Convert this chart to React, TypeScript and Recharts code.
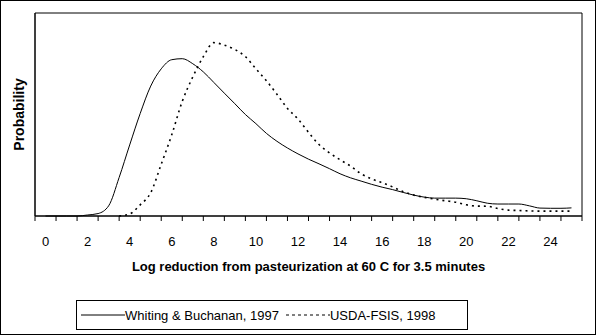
import React from 'react';
import { LineChart, Line, XAxis, YAxis, ReferenceArea } from 'recharts';

// log reduction (category centres) and relative probability
const xWhiting = [0, 1, 1.5, 2, 2.5, 3, 3.5, 4, 4.5, 5, 5.5, 6, 6.5, 7, 7.5, 8, 8.5, 9, 9.5, 10, 10.5, 11, 11.5, 12, 12.5, 13, 13.5, 14, 14.5, 15, 15.5, 16, 16.5, 17, 17.5, 18, 18.5, 19, 19.5, 20, 20.5, 21, 21.5, 22, 22.5, 23, 23.5, 24, 24.5, 25];
const yWhiting = [0, 0, 0, 0.5, 1.2, 5, 19, 35, 50.5, 64, 72.5, 77, 77.5, 75, 71, 65.8, 60.5, 55.3, 50, 45.5, 40.7, 36.8, 33.5, 30.6, 28, 25.7, 23.3, 20.8, 18.8, 17.2, 15.6, 14.2, 13, 11.6, 10.3, 9.3, 8.8, 8.8, 8.8, 8.5, 7.5, 6.3, 5.9, 5.9, 5.9, 5, 3.9, 3.8, 3.8, 4];

const xUsda = [3.5, 4, 4.5, 5, 5.5, 6, 6.5, 7, 7.5, 8, 8.5, 9, 9.5, 10, 10.5, 11, 11.5, 12, 12.5, 13, 13.5, 14, 14.5, 15, 15.5, 16, 16.5, 17, 17.5, 18, 18.5, 19, 19.5, 20, 20.5, 21, 21.5, 22, 22.5, 23, 23.5, 24, 24.5, 25];
const yUsda = [0, 1, 5.5, 11.5, 25.5, 40, 56.5, 68.5, 78.5, 85.4, 84.2, 82, 78.5, 72.5, 66.6, 60, 53, 47.8, 41.2, 35.2, 31.1, 27.7, 24.6, 20.8, 18.3, 16.4, 14.3, 12, 10.3, 9.2, 8.3, 7.5, 6.8, 5.5, 4.9, 4.8, 3.7, 2.9, 2.7, 2.5, 2.4, 2.4, 2.4, 2.4];

// category boundaries (tick marks) and the labels that sit between them
const boundaries = Array.from({ length: 27 }, (_, i) => i - 0.5);
const labelled = [0, 2, 4, 6, 8, 10, 12, 14, 16, 18, 20, 22, 24];

const whiting = xWhiting.map((x, i) => ({ x, y: yWhiting[i] }));
const usda = xUsda.map((x, i) => ({ x, y: yUsda[i] }));

const W = 596;
const H = 335;
const LEFT = 34;
const RIGHT = 13;
const FONT = '"Liberation Sans", Arial, sans-serif';
const halfStep = (W - LEFT - RIGHT) / 26 / 2;

function BoundaryTick(props: any) {
  const { x, y, payload } = props;
  const k = payload.value + 0.5;
  if (!labelled.includes(k)) return null;
  return (
    <text x={x + halfStep} y={y + 23} textAnchor="middle" fontSize={13} fill="#000" fontFamily={FONT}>
      {k}
    </text>
  );
}

function ProbabilityLabel(props: any) {
  const { viewBox } = props;
  const cy = viewBox.y + viewBox.height / 2;
  return (
    <text
      x={19}
      y={cy}
      transform={`rotate(-90, 19, ${cy})`}
      textAnchor="middle"
      dominantBaseline="central"
      fontSize={14}
      fontWeight="bold"
      fill="#000"
      fontFamily={FONT}
    >
      Probability
    </text>
  );
}

export default function App() {
  return (
    <div
      style={{
        position: 'absolute',
        left: 0,
        top: 0,
        width: W,
        height: H,
        border: '1px solid #000',
        boxSizing: 'border-box',
        background: '#fff',
        fontFamily: FONT,
      }}
    >
      <LineChart
        width={W - 2}
        height={H - 2}
        style={{ position: 'absolute', left: -1, top: -1 }}
        margin={{ top: 13, right: RIGHT - 1, bottom: 86, left: 0 }}
      >
        <XAxis
          type="number"
          dataKey="x"
          domain={[-0.5, 25.5]}
          ticks={boundaries}
          interval={0}
          allowDataOverflow
          height={31}
          tickSize={5}
          tickLine={{ stroke: '#000' }}
          axisLine={{ stroke: '#000' }}
          tick={<BoundaryTick />}
          label={{
            value: 'Log reduction from pasteurization at 60 C for 3.5 minutes',
            position: 'insideBottom',
            offset: -24,
            fill: '#000',
            fontSize: 13,
            fontWeight: 'bold',
            fontFamily: FONT,
          }}
        />
        <YAxis
          type="number"
          domain={[0, 100]}
          width={LEFT + 1}
          tick={false}
          tickLine={false}
          axisLine={{ stroke: '#000' }}
          label={<ProbabilityLabel />}
        />
        <ReferenceArea x1={-0.5} x2={25.5} y1={0} y2={100} fill="none" stroke="#000" strokeWidth={1} />
        <Line
          data={whiting}
          dataKey="y"
          type="monotone"
          stroke="#000"
          strokeWidth={1}
          dot={false}
          isAnimationActive={false}
        />
        <Line
          data={usda}
          dataKey="y"
          type="monotone"
          stroke="#000"
          strokeWidth={1.6}
          strokeDasharray="2 4"
          dot={false}
          isAnimationActive={false}
        />
      </LineChart>
      <div
        style={{
          position: 'absolute',
          left: 75,
          top: 299,
          width: 392,
          height: 30,
          border: '1px solid #000',
          boxSizing: 'border-box',
          display: 'flex',
          alignItems: 'center',
          paddingLeft: 4,
          fontSize: 13,
          color: '#000',
          whiteSpace: 'nowrap',
        }}
      >
        <svg width={44} height={4}>
          <line x1={0} y1={2} x2={44} y2={2} stroke="#000" strokeWidth={1} />
        </svg>
        <span>Whiting &amp; Buchanan, 1997</span>
        <svg width={44} height={4} style={{ marginLeft: 7 }}>
          <line x1={0} y1={2} x2={44} y2={2} stroke="#000" strokeWidth={1} strokeDasharray="3 3" />
        </svg>
        <span>USDA-FSIS, 1998</span>
      </div>
    </div>
  );
}
